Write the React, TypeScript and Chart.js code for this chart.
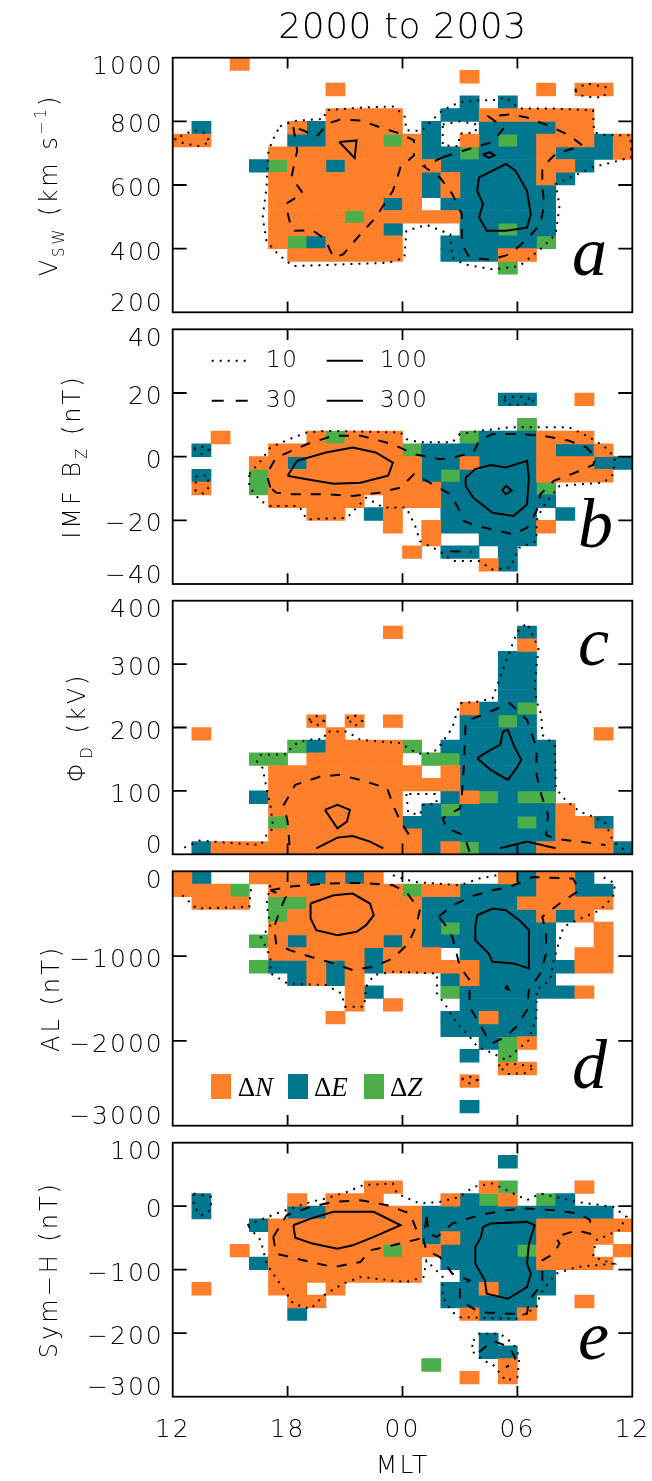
import React, { useEffect, useRef } from 'react';
import { Chart, registerables } from 'chart.js';

Chart.register(...registerables);

// ---------------- data ----------------
const MLT_TICK_HOURS = [0, 6, 12, 18, 24]; // hours after 12 MLT
const MLT_TICK_LABELS = ['12', '18', '00', '06', '12'];
const CONTOUR_LEVELS = [10, 30, 100, 300];
const CELL_KEYS = ['N', 'E', 'Z'];

// Panel a: solar wind speed (km/s), bins of 40, rows top -> bottom
const A_RANGE = [200, 1000];
const A_BIN = 40;
const A_STEP = 200;
const A_CELLS = [
  '...N....................',
  '...............N........',
  '........N..........N.NN.',
  '...............E.E......',
  '........NNNN..EENNNNNN..',
  '.E....NENNNN.E..EEEENN..',
  'NN....EENNNZNE.NEZENNNEN',
  '.....NNNNNNNNEEZEEENEEEN',
  '....EZNNENNNNNEEEEENNE..',
  '.....NNNNNNNNENEEEENE...',
  '.....NNNNNNNNENEEEEE....',
  '.....NNNNNNEN.EEEEEE....',
  '.....NNNNZNNNNNEEEEE....',
  '.....NNNNNNE...EEZEE....',
  '.....NZENNNN..EEEEEZ....',
  '......NNNNNN..EEENN.....',
  '.................Z......',
  '........................',
  '........................',
  '........................',
];
const A_C10 = [
  [[5.6,784],[6.3,801],[7.9,808],[8.0,835],[9.8,843],[11.5,847],[12.1,819],[12.2,772],[13.0,770],[13.8,819],[14.1,835],[15.0,861],[16.0,866],[16.7,866],[17.4,875],[18.1,840],[19.9,840],[21.95,835],[22.0,766],[22.6,756],[23.9,756],[23.95,687],[23.0,672],[21.95,656],[21.0,630],[20.0,603],[20.2,535],[20.0,445],[19.2,398],[18.1,345],[16.7,335],[15.2,351],[14.6,372],[14.5,445],[13.25,475],[12.2,456],[12.1,372],[11.3,356],[9.1,351],[6.3,345],[5.5,382],[4.9,424],[4.7,498],[4.9,593],[5.0,708],[5.3,751],[5.6,784]],
  [[0.1,745],[0.6,730],[1.4,722],[1.95,735],[1.6,766],[1.1,772],[0.1,745]],
  [[21.0,898],[21.6,919],[22.6,908],[22.55,877],[21.95,875],[21.25,882],[21.0,898]],
  [[14.1,790],[15.0,800],[15.9,790],[15.8,765],[15.0,762],[14.9,722],[14.1,725],[14.1,790]],
];
const A_C30 = [
  [[6.3,782],[6.5,708],[6.2,624],[6.8,574],[5.9,540],[6.1,487],[6.3,456],[7.3,458],[7.95,430],[8.4,372],[8.9,382],[9.8,445],[10.6,498],[11.5,582],[11.9,656],[12.6,693],[12.6,740],[11.9,761],[10.8,782],[9.8,803],[8.7,805],[8.1,793],[7.5,751],[6.8,772],[6.3,782]],
  [[14.1,687],[15.5,714],[16.7,735],[17.3,780],[16.5,815],[17.6,822],[18.5,812],[19.6,787],[20.7,756],[21.4,724],[20.0,698],[19.3,656],[19.3,593],[19.4,540],[19.2,477],[18.5,430],[17.6,382],[16.6,365],[15.5,372],[15.1,414],[15.1,508],[14.6,572],[13.95,624],[13.1,659],[14.1,687]],
];
const A_C100 = [
  [[8.7,735],[9.6,740],[9.5,685],[8.7,735]],
  [[16.0,624],[17.4,666],[17.9,645],[18.5,582],[18.7,508],[18.5,466],[17.4,456],[16.4,456],[16.0,498],[16.2,540],[15.9,582],[16.0,624]],
  [[16.2,696],[16.55,703],[16.8,693],[16.5,685],[16.2,696]],
];

// Panel b: IMF Bz (nT), bins of 4
const B_RANGE = [-40, 40];
const B_BIN = 4;
const B_STEP = 20;
const B_CELLS = [
  '........................',
  '........................',
  '........................',
  '........................',
  '........................',
  '.................EE..N..',
  '........................',
  '..................Z.....',
  '..N....NZNNN...ZEEENNN..',
  '.E...NNNNNNNZEEEEEENEEN.',
  '....NNENNNNNNEENEEENNNEE',
  '.E..ZNNNNNNNNEZEEEENNNN.',
  '.N..ZNNNNNNNNNEEEEEZ....',
  '.....NNNNN.NNNEEEEEE....',
  '.......NN.EN..EEEEE.E...',
  '...........N.NEEEEEN....',
  '.............N..EEE.....',
  '............N.EE.E......',
  '................NE......',
  '........................',
];
const B_C10 = [
  [[4.0,-5.5],[4.6,-1.3],[5.1,2.9],[6.3,6.0],[7.0,7.6],[8.0,8.1],[11.9,7.6],[12.2,5.5],[12.9,4.5],[14.6,4.5],[15.0,7.1],[16.0,8.1],[17.6,9.2],[19.0,9.2],[20.7,9.2],[21.6,6.6],[22.5,3.4],[23.1,-0.3],[23.0,-5.5],[22.5,-8.15],[20.2,-9.2],[19.3,-16.0],[19.0,-20.2],[19.0,-26.5],[18.1,-28.6],[17.6,-34.9],[16.7,-35.45],[16.0,-32.8],[14.6,-32.8],[13.95,-29.7],[12.9,-26.5],[12.7,-22.3],[12.2,-16.0],[11.0,-16.0],[10.1,-12.9],[9.1,-19.2],[7.0,-19.7],[6.6,-15.5],[5.1,-15.5],[4.6,-13.9],[4.0,-9.7],[4.0,-5.5]],
  [[17.3,18.6],[18.1,18.9],[18.9,17.8],[18.3,16.2],[17.4,16.4],[17.3,18.6]],
  [[1.1,2.6],[1.5,3.2],[1.9,2.2],[1.5,0.8],[1.1,2.6]],
  [[1.2,-6.2],[1.8,-5.8],[1.9,-9.5],[1.6,-11.6],[1.2,-10.8],[1.2,-6.2]],
];
const B_C30 = [
  [[5.1,-9.7],[4.9,-5.5],[5.4,-0.3],[7.0,3.9],[8.4,6.6],[9.8,6.6],[11.5,3.9],[12.6,0.8],[13.95,-0.8],[14.6,-0.3],[15.7,1.3],[16.0,5.0],[16.7,7.1],[18.1,7.1],[19.3,6.6],[20.7,5.0],[21.6,2.9],[22.1,-0.3],[21.95,-2.6],[21.25,-4.5],[19.9,-7.6],[19.2,-11.8],[19.0,-17.1],[18.5,-22.3],[17.8,-24.4],[16.7,-22.85],[15.9,-21.8],[15.2,-20.2],[15.0,-17.1],[14.5,-11.8],[13.25,-7.6],[12.6,-5.5],[11.9,-9.7],[10.8,-11.3],[9.4,-12.35],[8.0,-11.8],[6.3,-11.8],[5.4,-11.3],[5.1,-9.7]],
  [[14.5,-29.7],[15.6,-29.9]],
];
const B_C100 = [
  [[6.0,-6.0],[6.5,-1.3],[8.0,1.3],[9.4,2.9],[10.6,1.3],[11.5,-1.9],[11.25,-6.0],[9.8,-8.2],[8.4,-8.5],[7.0,-7.1],[6.0,-6.0]],
  [[15.3,-6.6],[15.8,-3.9],[16.6,-2.6],[17.4,-3.4],[18.5,-1.3],[18.6,-6.6],[18.5,-15.0],[17.8,-18.6],[16.7,-17.6],[15.7,-12.9],[15.3,-9.2],[15.3,-6.6]],
  [[17.2,-10.6],[17.4,-9.2],[17.7,-10.6],[17.4,-11.8],[17.2,-10.6]],
];

// Panel c: polar cap potential Phi_D (kV), bins of 20
const C_RANGE = [0, 400];
const C_BIN = 20;
const C_STEP = 100;
const C_CELLS = [
  '........................',
  '........................',
  '...........N......E.....',
  '..................N.....',
  '.................EE.....',
  '.................EE.....',
  '.................EE.....',
  '.................EE.....',
  '...............NEEZ.....',
  '.......N.N.N...EEZE.....',
  '.N......N......EEEE...N.',
  '......ZENNNNZ.EEEEEE....',
  '....ZZ.NNNNN.ZZEEEEE....',
  '.....NNNNNNNN.NEEEEE....',
  '.....NNNNNNNNNNEEEEE....',
  '....ENNNNNNN..ENZEZZ....',
  '.....NNNNNNN.EZEEEEEN...',
  '.....ZNNNNNNEEEEEEZENNE.',
  '.....NNNNNNNNEEEEEEENNN.',
  '.ENNNNNNNNNNNENZEEENNNNE',
];
const C_C10 = [
  [[0.6,10.5],[1.4,21.6],[4.6,14.7],[4.9,30.5],[5.25,41.1],[5.1,77.9],[4.9,104.2],[4.7,135.8],[4.4,146.3],[4.6,156.8],[5.95,157.9],[6.3,172.6],[7.0,180.5],[7.9,182.1],[8.0,193.7],[9.1,193.7],[9.8,180.5],[11.9,175.3],[12.6,162.1],[13.1,156.8],[13.8,164.7],[14.1,177.9],[14.6,198.9],[14.8,220],[15.0,238.4],[16.0,241.1],[16.7,246.3],[17.4,304.2],[17.6,320],[18.0,351.6],[18.5,364.7],[19.1,325.3],[18.9,267.4],[19.0,241.1],[19.25,220],[19.3,188.4],[19.95,172.6],[20.0,104.2],[20.5,85.8],[21.25,67.4],[21.95,59.5],[22.6,48.9],[23.0,20],[23.7,4.2]],
  [[7.1,212],[7.5,218],[7.9,210],[7.5,203],[7.1,212]],
  [[9.1,215],[9.5,219],[9.9,210],[9.5,202],[9.1,215]],
  [[12.2,95],[12.3,66],[12.9,62],[13.1,78],[13.8,80],[13.7,95],[12.2,95]],
];
const C_C30 = [
  [[6.1,14.7],[6.0,51.6],[5.8,77.9],[6.4,109.5],[7.7,122.6],[8.7,125.3],[9.8,117.4],[11.2,104.2],[11.5,77.9],[11.9,51.6],[12.4,27.9]],
  [[15.5,4.2],[15.2,30.5],[14.3,41.1],[14.1,56.8],[15.0,72.6],[15.1,93.7],[15.2,135.8],[15.3,209.5],[16.6,225.3],[17.6,238.4],[18.5,212.1],[19.0,167.4],[19.0,125.3],[19.25,93.7],[19.6,62.1],[19.5,30.5],[20.0,24.2],[21.25,20],[22.6,14.7]],
];
const C_C100 = [
  [[7.95,70],[8.6,77.9],[9.25,70],[9.1,51.6],[8.6,41.1],[7.95,70]],
  [[7.5,9.5],[8.6,26.3],[9.4,28.9],[10.3,20],[11.0,9.5]],
  [[15.9,151.6],[16.6,164.7],[17.1,172.6],[17.25,193.7],[17.5,196.3],[17.8,172.6],[18.2,148.9],[17.95,135.8],[17.5,117.4],[16.6,133.2],[15.9,151.6]],
  [[17.1,9.5],[18.5,20],[20.0,9.5]],
];

// Panel d: AL (nT), bins of 150
const D_RANGE = [-3000, 0];
const D_BIN = 150;
const D_STEP = 1000;
const D_CELLS = [
  'NE..NNNENEN......NENNE..',
  'NNNZ.NNNNNNNZNNEEEENNEE.',
  '.NNN.ZZNNNNNNEEEEENNNNN.',
  '.....ZNNNNNNNEEEEEENEN..',
  '.....NNNNNNNNEZEEEEE..N.',
  '....ZNENNNNENEEEEEEE..N.',
  '.....NNNNNENNN.EEEEE.NN.',
  '....ZEENENENNNNNEEEEENN.',
  '......ENEN....ENEEEE....',
  '.........NE...ZEEEEEEN..',
  '.........N.N...EEEE.....',
  '........N.....EENEE.....',
  '..............EEEEE.....',
  '................EZN.....',
  '...............E.Z......',
  '.................NN.....',
  '...............N........',
  '........................',
  '...............E........',
  '........................',
];
const D_C10 = [
  [[5.1,-165],[4.9,-380],[5.1,-655],[4.6,-773],[5.1,-1008],[5.1,-1204],[6.0,-1322],[8.0,-1341],[8.8,-1439],[9.0,-1596],[10.0,-1596],[10.1,-1361],[10.5,-1224],[11.5,-1184],[13.8,-1204],[13.8,-1439],[14.3,-1596],[14.6,-1714],[15.0,-1832],[15.5,-1949],[15.9,-2067],[16.7,-2145],[17.4,-2224],[18.6,-1988],[19.0,-1714],[19.0,-1400],[19.7,-1282],[19.9,-1047],[20.2,-812],[20.4,-655],[21.1,-577],[22.3,-459],[23.0,-302],[23.1,-145],[22.3,-47]],
  [[0.5,-282],[1.25,-439],[4.0,-420],[4.1,-165]],
  [[11.5,-47],[12.6,-125],[15.0,-165],[16.0,-86],[16.9,-47]],
  [[17.0,-2290],[17.7,-2270],[18.9,-2300],[18.5,-2380],[17.5,-2390],[17.0,-2290]],
  [[15.1,-2450],[15.5,-2420],[15.9,-2460],[15.5,-2500],[15.1,-2450]],
];
const D_C30 = [
  [[5.1,-224],[6.3,-176],[8.0,-145],[9.8,-137],[11.5,-165],[12.2,-243],[12.9,-459],[12.7,-655],[12.3,-851],[11.5,-1028],[10.5,-1126],[9.4,-1165],[8.4,-1086],[7.2,-1008],[6.1,-929],[5.4,-851],[5.3,-655],[5.6,-459],[5.9,-302],[5.1,-224]],
  [[13.9,-537],[14.5,-420],[15.5,-302],[16.7,-224],[17.6,-184],[18.8,-67],[20.9,-86],[21.25,-224],[20.2,-380],[19.3,-537],[19.5,-733],[19.5,-969],[19.2,-1204],[18.6,-1400],[18.5,-1635],[17.95,-1832],[17.4,-1949],[16.7,-2028],[16.4,-1949],[15.5,-1596],[15.5,-1282],[15.0,-1126],[14.6,-773],[14.3,-655],[13.9,-537]],
];
const D_C100 = [
  [[7.2,-380],[8.4,-282],[9.4,-263],[10.3,-380],[10.5,-518],[10.1,-635],[9.6,-714],[8.6,-753],[7.5,-694],[7.2,-557],[7.2,-380]],
  [[15.9,-518],[16.7,-439],[17.4,-459],[18.1,-577],[18.6,-694],[18.6,-890],[18.6,-1145],[17.8,-1086],[16.7,-1067],[16.5,-969],[15.8,-812],[15.8,-655],[15.9,-518]],
  [[17.35,-1380],[17.45,-1355],[17.55,-1395],[17.35,-1380]],
];

// Panel e: Sym-H (nT), bins of 20
const E_RANGE = [-300, 100];
const E_BIN = 20;
const E_STEP = 100;
const E_CELLS = [
  '........................',
  '.................E......',
  '........................',
  '..........NN....NZ...N..',
  '.E....N.NNN...NEZN.ZE...',
  '.E....EENNNNNEEEEEEEEEE.',
  '....ENNNNNNNNEEEEEENNNNN',
  '.....NNNNNNNNENEEEENNNN.',
  '...N.NNNNNNZNNEEEEZNNN.N',
  '....ENNNNNNNN.EEEEENNNN.',
  '.....NNNNNNNN..EEEEE....',
  '.N...NN.N.....EENEEE....',
  '......NN......EEEEE..N..',
  '......E........NEEN.....',
  '........................',
  '................E.......',
  '................EE......',
  '.............Z...N......',
  '...............N.N......',
  '........................',
];
const E_C10 = [
  [[3.9,-30],[5.4,-11.6],[7.2,6.8],[8.0,12.1],[9.1,22.6],[9.95,33.2],[11.5,35.8],[11.7,20],[12.9,4.2],[13.95,6.8],[15.0,14.7],[15.7,30.5],[16.7,35.8],[17.8,20],[18.5,9.5],[19.2,20],[21.1,6.8],[23.0,-1],[23.7,-16.8],[23.3,-37.9],[22.1,-53.7],[21.95,-80],[23.0,-90.5],[21.1,-95.8],[20.0,-106.3],[19.2,-137.9],[19.0,-158.9],[17.95,-177.4],[15.0,-174.7],[14.6,-166.8],[14.1,-143.2],[14.1,-111.6],[13.25,-85.3],[13.1,-111.6],[12.2,-119.5],[9.8,-111.6],[8.9,-122.1],[8.0,-137.9],[7.2,-161.6],[6.3,-153.7],[5.95,-137.9],[5.25,-106.3],[4.9,-90.5],[4.6,-53.7],[3.9,-30]],
  [[15.7,-211.6],[16.0,-201],[17.1,-201],[17.8,-216.8],[18.1,-237.9],[18.0,-269.5],[17.4,-274.7],[16.7,-248.4],[16.2,-243.2],[15.6,-227.4],[15.7,-211.6]],
  [[1.1,20],[2.0,14.7],[2.0,-6.3],[1.5,-14.2],[1.1,-1],[1.1,20]],
];
const E_C30 = [
  [[5.25,-48.4],[5.95,-14.2],[7.2,-1],[8.4,6.8],[9.8,9.5],[11.2,1.6],[12.4,-11.6],[12.9,-51.1],[11.5,-61.6],[10.3,-69.5],[9.8,-87.9],[8.4,-95.8],[7.2,-87.9],[5.4,-74.7],[5.25,-48.4]],
  [[13.25,-16.8],[13.4,-43.2],[13.8,-48.4],[14.6,-27.4],[16.0,-14.2],[17.4,-6.3],[18.5,-3.7],[19.9,-6.3],[21.25,-11.6],[21.8,-22.1],[21.8,-43.2],[21.1,-37.9],[20.0,-48.4],[20.2,-58.9],[19.9,-74.7],[19.3,-85.3],[19.3,-101.1],[19.3,-122.1],[18.6,-148.4],[18.5,-169.5],[17.6,-169.5],[16.0,-166.8],[15.0,-148.4],[15.0,-127.4],[15.5,-116.8],[14.6,-106.3],[13.95,-80],[13.25,-69.5],[13.1,-53.7],[13.25,-16.8]],
  [[16.0,-230],[16.7,-211.6],[17.6,-222.1],[17.95,-243.2],[17.4,-253.7]],
];
const E_C100 = [
  [[6.3,-30],[7.2,-19.5],[8.4,-8.9],[10.5,-8.9],[11.9,-30],[10.5,-48.4],[9.4,-61.6],[8.6,-66.8],[7.3,-58.9],[6.4,-49.5],[6.3,-30]],
  [[16.2,-32.6],[16.6,-27.4],[18.5,-24.7],[18.9,-30],[18.6,-58.9],[18.5,-90.5],[18.7,-106.3],[18.5,-127.4],[17.5,-145.8],[16.4,-137.9],[16.3,-116.8],[15.8,-90.5],[15.8,-64.2],[16.1,-48.4],[16.2,-32.6]],
];

// ---------------- styles / layout ----------------
const PAGE_W = 652;
const PAGE_H = 1481;
const PLOT_LEFT = 172.7;
const PLOT_RIGHT = 632.3;
const SANS = '"DejaVu Sans ExtraLight", "DejaVu Sans", sans-serif';
const SANS_WEIGHT = 200;
const SERIF = '"Liberation Serif", "DejaVu Serif", serif';
const CELL_COLORS = { N: '#FF7F2A', E: '#00778F', Z: '#4DAF4A' };
const DOT_DASH = [2, 6];
const DASH_DASH = [10, 10];

const PANELS = [
  { id: 'a', top: 57.7, bottom: 312.3, range: A_RANGE, bin: A_BIN, step: A_STEP, cells: A_CELLS, c10: A_C10, c30: A_C30, c100: A_C100,
    axisTitle: [{ t: 'V' }, { t: 'SW', sub: true }, { t: ' (km s' }, { t: '\u22121', sup: true }, { t: ')' }], titleX: 57, letterX: 572, letterY: 275 },
  { id: 'b', top: 329.3, bottom: 584.0, range: B_RANGE, bin: B_BIN, step: B_STEP, cells: B_CELLS, c10: B_C10, c30: B_C30, c100: B_C100,
    axisTitle: [{ t: 'IMF B' }, { t: 'Z', sub: true }, { t: ' (nT)' }], titleX: 80, letterX: 578, letterY: 547 },
  { id: 'c', top: 600.7, bottom: 854.3, range: C_RANGE, bin: C_BIN, step: C_STEP, cells: C_CELLS, c10: C_C10, c30: C_C30, c100: C_C100,
    axisTitle: [{ t: '\u03A6' }, { t: 'D', sub: true }, { t: ' (kV)' }], titleX: 85, letterX: 578, letterY: 665 },
  { id: 'd', top: 871.3, bottom: 1125.7, range: D_RANGE, bin: D_BIN, step: D_STEP, cells: D_CELLS, c10: D_C10, c30: D_C30, c100: D_C100,
    axisTitle: [{ t: 'AL (nT)' }], titleX: 59, letterX: 572, letterY: 1088 },
  { id: 'e', top: 1142.7, bottom: 1396.7, range: E_RANGE, bin: E_BIN, step: E_STEP, cells: E_CELLS, c10: E_C10, c30: E_C30, c100: E_C100,
    axisTitle: [{ t: 'Sym\u2212H (nT)' }], titleX: 57, letterX: 578, letterY: 1359 },
];

function cellsToBars(cells, range, bin, key) {
  const out = [];
  cells.forEach((row, r) => {
    for (let k = 0; k < row.length; k++) {
      if (row[k] === key) {
        const hi = range[1] - bin * r;
        out.push({ x: k + 0.5, y: [hi - bin, hi] });
      }
    }
  });
  return out;
}

function fmt(v) {
  return v < 0 ? '\u2212' + Math.abs(v) : String(v);
}

function drawRotatedRich(ctx, segs, baselineX, centerY) {
  const size = 24;
  ctx.save();
  ctx.letterSpacing = '3px';
  ctx.translate(baselineX, centerY);
  ctx.rotate(-Math.PI / 2);
  ctx.textAlign = 'left';
  ctx.textBaseline = 'alphabetic';
  ctx.fillStyle = '#000';
  const fonts = segs.map((s) => `${SANS_WEIGHT} ${s.sub || s.sup ? 15 : size}px ${SANS}`);
  const widths = segs.map((s, i) => { ctx.font = fonts[i]; return ctx.measureText(s.t).width; });
  const total = widths.reduce((a, b) => a + b, 0);
  let x = -total / 2;
  segs.forEach((s, i) => {
    ctx.font = fonts[i];
    ctx.fillText(s.t, x, s.sub ? 7 : s.sup ? -11 : 0);
    x += widths[i];
  });
  ctx.restore();
}

function decorPlugin(p) {
  const [ymin, ymax] = p.range;
  return {
    id: 'decor_' + p.id,
    beforeDraw(chart) {
      chart.ctx.letterSpacing = '2px';
    },
    afterDraw(chart) {
      const { ctx, chartArea: a } = chart;
      const xs = chart.scales.x;
      const ys = chart.scales.y;
      ctx.save();
      ctx.strokeStyle = '#000';
      ctx.fillStyle = '#000';
      ctx.setLineDash([]);
      ctx.lineWidth = 1.8;
      ctx.strokeRect(a.left, a.top, a.right - a.left, a.bottom - a.top);
      ctx.beginPath();
      MLT_TICK_HOURS.forEach((h) => {
        if (h <= 0 || h >= 24) return;
        const x = xs.getPixelForValue(h);
        ctx.moveTo(x, a.bottom); ctx.lineTo(x, a.bottom - 10.7);
        ctx.moveTo(x, a.top); ctx.lineTo(x, a.top + 10.7);
      });
      ys.ticks.forEach((t) => {
        if (t.value <= ymin || t.value >= ymax) return;
        const y = ys.getPixelForValue(t.value);
        ctx.moveTo(a.left, y); ctx.lineTo(a.left + 14, y);
        ctx.moveTo(a.right, y); ctx.lineTo(a.right - 14, y);
      });
      ctx.stroke();

      // panel letter
      ctx.letterSpacing = '0px';
      ctx.font = `italic 70px ${SERIF}`;
      ctx.textAlign = 'left';
      ctx.textBaseline = 'alphabetic';
      ctx.fillText(p.id, p.letterX, p.letterY);

      // y-axis title
      drawRotatedRich(ctx, p.axisTitle, p.titleX, (a.top + a.bottom) / 2);

      if (p.id === 'a') {
        ctx.letterSpacing = '0.5px';
        ctx.font = `${SANS_WEIGHT} 36px ${SANS}`;
        ctx.textAlign = 'center';
        ctx.textBaseline = 'middle';
        ctx.fillText('2000 to 2003', (a.left + a.right) / 2, 28.3);
      }

      if (p.id === 'b') {
        const rows = [
          { y: 360.7, items: [{ dash: DOT_DASH, label: String(CONTOUR_LEVELS[0]) }, { dash: [], label: String(CONTOUR_LEVELS[2]) }] },
          { y: 400.7, items: [{ dash: [12, 12], label: String(CONTOUR_LEVELS[1]) }, { dash: [], label: String(CONTOUR_LEVELS[3]) }] },
        ];
        const cols = [{ x0: 211.7, x1: 248, tx: 266 }, { x0: 326.7, x1: 363, tx: 380 }];
        ctx.lineWidth = 2;
        ctx.font = `${SANS_WEIGHT} 23px ${SANS}`;
        ctx.letterSpacing = '1.5px';
        ctx.textAlign = 'left';
        ctx.textBaseline = 'middle';
        rows.forEach((r) => {
          r.items.forEach((it, i) => {
            const c = cols[i];
            ctx.setLineDash(it.dash);
            ctx.beginPath();
            ctx.moveTo(c.x0, r.y); ctx.lineTo(c.x1, r.y);
            ctx.stroke();
            ctx.fillText(it.label, c.tx, r.y);
          });
        });
        ctx.setLineDash([]);
      }

      if (p.id === 'd') {
        const items = [
          { key: 'N', bx: 211, tx: 237.7 },
          { key: 'E', bx: 288, tx: 314 },
          { key: 'Z', bx: 364, tx: 390 },
        ];
        ctx.letterSpacing = '0px';
        ctx.textAlign = 'left';
        ctx.textBaseline = 'alphabetic';
        items.forEach((it) => {
          ctx.fillStyle = CELL_COLORS[it.key];
          ctx.fillRect(it.bx, 1074, 20, 25);
          ctx.fillStyle = '#000';
          ctx.font = `27px ${SERIF}`;
          ctx.fillText('\u0394', it.tx, 1096);
          const w = ctx.measureText('\u0394').width;
          ctx.font = `italic 27px ${SERIF}`;
          ctx.fillText(it.key, it.tx + w, 1096);
        });
      }
      ctx.restore();
    },
  };
}

function buildConfig(p, isBottom) {
  const [ymin, ymax] = p.range;
  const datasets = [];
  CELL_KEYS.forEach((key) => {
    datasets.push({
      type: 'bar',
      label: key,
      data: cellsToBars(p.cells, p.range, p.bin, key),
      backgroundColor: CELL_COLORS[key],
      borderWidth: 0,
      borderSkipped: false,
      grouped: false,
      barPercentage: 1,
      categoryPercentage: 1,
      order: 2,
    });
  });
  const addLines = (lines, dash) => {
    lines.forEach((pts) => {
      datasets.push({
        type: 'line',
        data: pts.map(([x, y]) => ({ x, y })),
        borderColor: '#000',
        borderWidth: 2,
        borderDash: dash,
        pointRadius: 0,
        pointHoverRadius: 0,
        fill: false,
        tension: 0,
        order: 1,
      });
    });
  };
  addLines(p.c10, DOT_DASH);
  addLines(p.c30, DASH_DASH);
  addLines(p.c100, []);

  return {
    type: 'bar',
    data: { datasets },
    options: {
      responsive: false,
      animation: false,
      devicePixelRatio: 1,
      events: [],
      layout: { padding: { left: 0, right: PAGE_W - PLOT_RIGHT, top: p.top, bottom: isBottom ? 0 : PAGE_H - p.bottom } },
      plugins: { legend: { display: false }, tooltip: { enabled: false }, title: { display: false } },
      scales: {
        x: {
          type: 'linear',
          min: 0,
          max: 24,
          offset: false,
          display: isBottom,
          grid: { display: false, offset: false, drawTicks: false },
          border: { display: false },
          afterFit: (s) => {
            if (isBottom) s.height = PAGE_H - p.bottom;
            s.paddingLeft = 0;
            s.paddingRight = 0;
          },
          ticks: {
            stepSize: 6,
            autoSkip: false,
            maxRotation: 0,
            color: '#000',
            padding: 19,
            font: { family: SANS, size: 25, weight: SANS_WEIGHT },
            callback: (v) => MLT_TICK_LABELS[MLT_TICK_HOURS.indexOf(v)],
          },
          title: { display: true, text: 'MLT', color: '#000', font: { family: SANS, size: 25, weight: SANS_WEIGHT }, padding: 0 },
        },
        y: {
          type: 'linear',
          min: ymin,
          max: ymax,
          grid: { display: false, drawTicks: false },
          border: { display: false },
          afterFit: (s) => {
            s.width = PLOT_LEFT;
            s.paddingTop = 0;
            s.paddingBottom = 0;
          },
          ticks: {
            stepSize: p.step,
            color: '#000',
            padding: 9,
            labelOffset: 4.5,
            font: (ctx) => {
              const v = ctx.tick ? ctx.tick.value : null;
              return { family: SANS, size: 25, weight: SANS_WEIGHT, lineHeight: v === ymax ? '11px' : v === ymin ? '25px' : 1.2 };
            },
            callback: (v) => {
              const s = fmt(v);
              if (v === ymax) return ['', s];
              if (v === ymin) return [s, ''];
              return s;
            },
          },
        },
      },
    },
    plugins: [decorPlugin(p)],
  };
}

function Panel({ p, isBottom }) {
  const ref = useRef(null);
  useEffect(() => {
    const chart = new Chart(ref.current, buildConfig(p, isBottom));
    return () => chart.destroy();
  }, [p, isBottom]);
  return (
    <canvas
      ref={ref}
      width={PAGE_W}
      height={PAGE_H}
      style={{ position: 'absolute', left: 0, top: 0, width: PAGE_W, height: PAGE_H }}
    />
  );
}

export default function App() {
  return (
    <div style={{ position: 'absolute', left: 0, top: 0, width: PAGE_W, height: PAGE_H, background: '#fff' }}>
      {PANELS.map((p, i) => (
        <Panel key={p.id} p={p} isBottom={i === PANELS.length - 1} />
      ))}
    </div>
  );
}
